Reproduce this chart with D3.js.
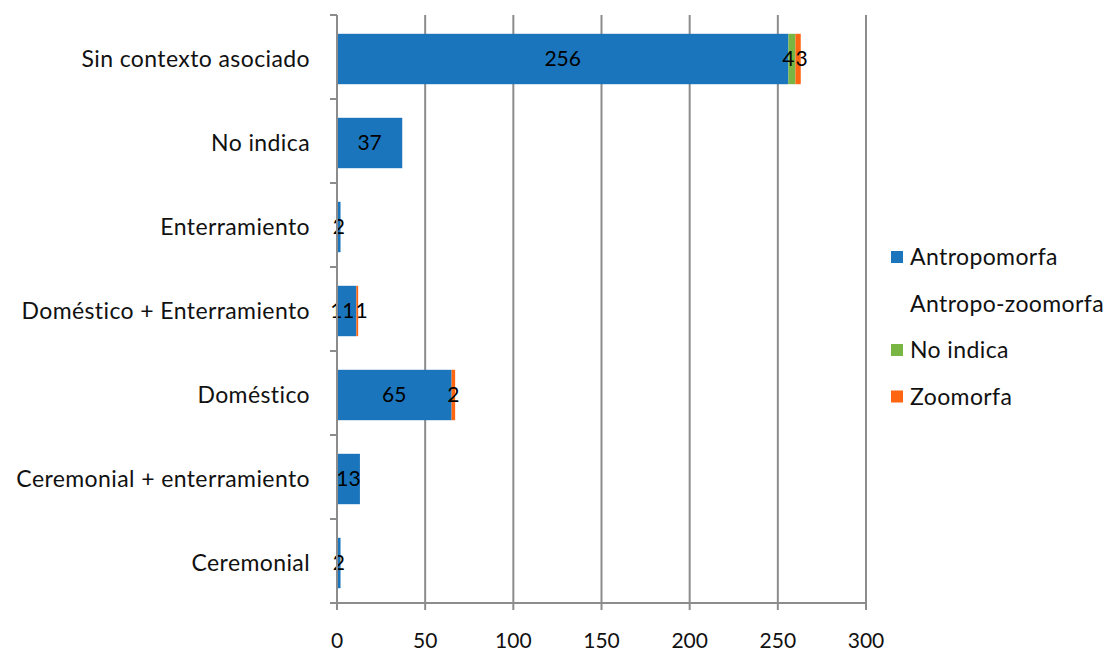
<!DOCTYPE html>
<meta charset="utf-8">
<head>
<style>
body { margin: 0; background: #fff; }
text { font-family: Lato, "Open Sans", sans-serif; fill: #000; }
.grid line { stroke: #8c8c8c; stroke-width: 2px; }
.axis path, .axis line { stroke: #8c8c8c; stroke-width: 2px; }
.cat { font-size: 23px; letter-spacing: 0.4px; fill: #111; }
.tick-lbl { font-size: 21px; fill: #111; }
.val { font-size: 21px; }
.legend text { font-size: 23px; letter-spacing: 0.4px; fill: #111; }
</style>
<title>Contexto</title>
</head>
<body>
<svg id="graphic" width="1112" height="654"></svg>
<script src="https://d3js.org/d3.v7.min.js"></script>
<script>
// categories, top to bottom
var categories = ["Sin contexto asociado", "No indica", "Enterramiento",
  "Doméstico + Enterramiento", "Doméstico", "Ceremonial + enterramiento", "Ceremonial"];
var seriesNames = ["Antropomorfa", "Antropo-zoomorfa", "No indica", "Zoomorfa"];
var seriesColors = ["#1b75bc", "none", "#78b543", "#ff6612"];
var antropomorfa    = [256, 37, 2, 11, 65, 13, 2];
var antropoZoomorfa = [0, 0, 0, 0, 0, 0, 0];
var noIndica        = [4, 0, 0, 0, 0, 0, 0];
var zoomorfa        = [3, 0, 0, 1, 2, 0, 0];
var xTicks = [0, 50, 100, 150, 200, 250, 300];

var svg = d3.select("svg");
var mLeft = 337, mRight = 866, mTop = 15, mBottom = 603;

var x = d3.scaleLinear().domain([0, 300]).range([mLeft, mRight]);
var y = d3.scaleBand().domain(categories).range([mTop + 2, mBottom + 2]).paddingInner(0.4).paddingOuter(0.2);
var yb = d3.scaleBand().domain(categories).range([mTop, mBottom]);

var rows = categories.map(function(c, i) {
  return {cat: c, Antropomorfa: antropomorfa[i], "Antropo-zoomorfa": antropoZoomorfa[i],
    "No indica": noIndica[i], Zoomorfa: zoomorfa[i]};
});
var stacked = d3.stack().keys(seriesNames)(rows);

// gridlines
svg.append("g").attr("class", "grid")
  .selectAll("line").data(xTicks.slice(1)).enter().append("line")
  .attr("x1", function(d) { return x(d); }).attr("x2", function(d) { return x(d); })
  .attr("y1", mTop).attr("y2", mBottom);

// bars
stacked.forEach(function(s, si) {
  if (seriesColors[si] === "none") return;
  svg.append("g").selectAll("rect").data(s.filter(function(d) { return d[1] > d[0]; }))
    .enter().append("rect")
    .attr("x", function(d) { return x(d[0]); })
    .attr("width", function(d) { return x(d[1]) - x(d[0]); })
    .attr("y", function(d) { return y(d.data.cat); })
    .attr("height", y.bandwidth())
    .attr("fill", seriesColors[si]);
});

// value labels, pushed apart when two in a row collide
var labels = [];
stacked.forEach(function(s) {
  s.forEach(function(d) {
    if (d[1] > d[0]) labels.push({cat: d.data.cat, v: d[1] - d[0], cx: (x(d[0]) + x(d[1])) / 2});
  });
});
var lblG = svg.append("g");
categories.forEach(function(c) {
  var row = labels.filter(function(l) { return l.cat === c; });
  var prev = null;
  row.forEach(function(l) {
    var t = lblG.append("text").attr("class", "val").attr("text-anchor", "middle")
      .attr("x", l.cx).attr("y", y(c) + y.bandwidth() / 2 + 7).text(l.v);
    l.node = t; l.w = t.node().getComputedTextLength();
    if (prev) {
      var gap = (l.cx - l.w / 2) - (prev.cx + prev.w / 2);
      if (gap < 1) {
        var s = (1 - gap) / 2;
        prev.cx -= s; l.cx += s;
        prev.node.attr("x", prev.cx); t.attr("x", l.cx);
      }
    }
    prev = l;
  });
});

// y axis
var ya = svg.append("g").attr("class", "axis");
ya.append("line").attr("x1", mLeft).attr("x2", mLeft).attr("y1", mTop).attr("y2", mBottom);
ya.selectAll("line.t").data(categories.concat(["__end"])).enter().append("line")
  .attr("x1", mLeft - 7).attr("x2", mLeft)
  .attr("y1", function(d, i) { return mTop + i * yb.step(); })
  .attr("y2", function(d, i) { return mTop + i * yb.step(); });
svg.append("g").selectAll("text").data(categories).enter().append("text")
  .attr("class", "cat").attr("text-anchor", "end")
  .attr("x", 310)
  .attr("y", function(d) { return yb(d) + yb.bandwidth() / 2 + 10; })
  .text(function(d) { return d; });

// x axis
var xa = svg.append("g").attr("class", "axis");
xa.append("line").attr("x1", mLeft - 7).attr("x2", mRight).attr("y1", mBottom).attr("y2", mBottom);
xa.selectAll("line.t").data(xTicks).enter().append("line")
  .attr("x1", function(d) { return x(d); }).attr("x2", function(d) { return x(d); })
  .attr("y1", mBottom).attr("y2", mBottom + 7);
svg.append("g").selectAll("text").data(xTicks).enter().append("text")
  .attr("class", "tick-lbl").attr("text-anchor", "middle")
  .attr("x", function(d) { return x(d); }).attr("y", 648)
  .text(function(d) { return d; });

// legend
var lg = svg.append("g").attr("class", "legend");
seriesNames.forEach(function(n, i) {
  var ly = 257 + i * 46.5;
  if (seriesColors[i] !== "none")
    lg.append("rect").attr("x", 891).attr("y", ly - 6).attr("width", 12).attr("height", 12).attr("fill", seriesColors[i]);
  lg.append("text").attr("x", 910).attr("y", ly + 8).text(n);
});
</script>
</body>
